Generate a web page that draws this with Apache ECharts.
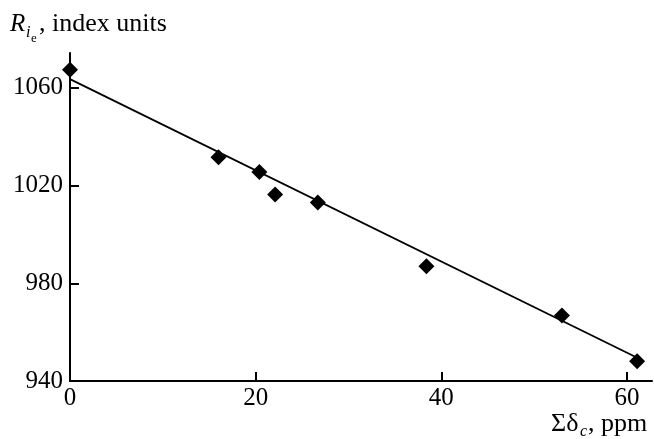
<!DOCTYPE html>
<html>
<head>
<meta charset="UTF-8">
<script src="https://cdn.jsdelivr.net/npm/echarts@6/dist/echarts.min.js"></script>
<style>
  html, body { margin: 0; padding: 0; background: #fff; }
  #chart { width: 654px; height: 439px; }
</style>
</head>
<body>
<div id="chart"></div>
<script>
// measured points (Σδc, ppm vs R_ie, index units)
const shiftSum = [0, 16.0, 20.4, 22.1, 26.7, 38.4, 53.0, 61.1];
const retention = [1067.4, 1031.6, 1025.6, 1016.4, 1013.1, 987.0, 966.8, 948.1];
// regression line ends
const fitX = [0, 61];
const fitY = [1063.6, 949.7];
const xTicks = [0, 20, 40, 60];
const yTicks = [940, 980, 1020, 1060];

const serif = "Liberation Serif";
const chart = echarts.init(document.getElementById("chart"));

const axisCommon = {
  axisLine: { lineStyle: { color: "#000", width: 2 } },
  axisTick: { inside: true, length: 9, lineStyle: { color: "#000", width: 2 } },
  splitLine: { show: false },
  axisLabel: {
    color: "#000",
    fontFamily: serif,
    fontSize: 25,
    margin: 7,
    formatter: (v) => String(v),
  },
};

chart.setOption({
  animation: false,
  grid: { left: 70, right: 2, top: 53, bottom: 58 },
  xAxis: {
    type: "value",
    min: 0,
    max: 62.7,
    ...axisCommon,
    axisTick: { ...axisCommon.axisTick, customValues: xTicks },
    axisLabel: { ...axisCommon.axisLabel, margin: 5, customValues: xTicks },
  },
  yAxis: {
    type: "value",
    min: 940,
    max: 1074.3,
    ...axisCommon,
    axisTick: { ...axisCommon.axisTick, customValues: yTicks },
    axisLabel: { ...axisCommon.axisLabel, customValues: yTicks },
  },
  series: [
    {
      type: "line",
      data: fitX.map((x, i) => [x, fitY[i]]),
      symbol: "none",
      lineStyle: { color: "#000", width: 1.8 },
      z: 2,
    },
    {
      type: "scatter",
      data: shiftSum.map((x, i) => [x, retention[i]]),
      symbol: "diamond",
      symbolSize: 16,
      itemStyle: { color: "#000", opacity: 1 },
      z: 3,
    },
  ],
  graphic: [
    // y axis title: R_{i_e}, index units
    { type: "text", left: 10, top: 12, style: { text: "R", font: "italic 25px " + serif, fill: "#000" } },
    { type: "text", left: 26, top: 25, style: { text: "i", font: "italic 16px " + serif, fill: "#000" } },
    { type: "text", left: 31, top: 32, style: { text: "e", font: "13px " + serif, fill: "#000" } },
    { type: "text", left: 39, top: 11, style: { text: ", index units", font: "26px " + serif, fill: "#000" } },
    // x axis title: Σδ_c, ppm
    { type: "text", left: 551, top: 411, style: { text: "Σδ", font: "26px " + serif, fill: "#000" } },
    { type: "text", left: 580, top: 424, style: { text: "c", font: "italic 16px " + serif, fill: "#000" } },
    { type: "text", left: 588, top: 411, style: { text: ", ppm", font: "26px " + serif, fill: "#000" } },
  ],
});
</script>
</body>
</html>
